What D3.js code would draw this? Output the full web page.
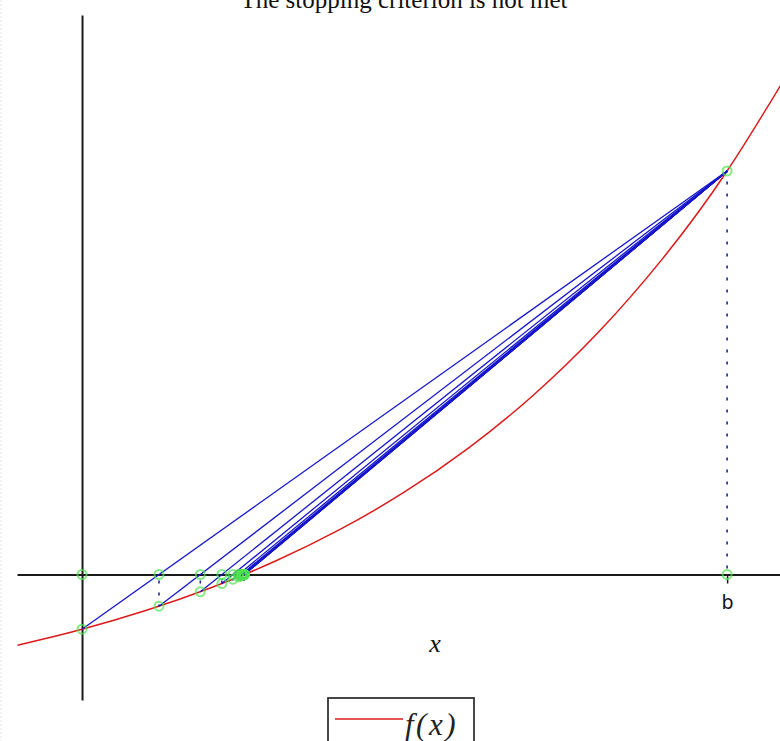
<!DOCTYPE html>
<html>
<head>
<meta charset="utf-8">
<script src="https://cdn.jsdelivr.net/npm/d3@7"></script>
<style>
  html, body { margin: 0; padding: 0; background: #fff; }
  svg { display: block; }
</style>
</head>
<body>
<svg id="chart" width="780" height="741"></svg>
<script>
// f(x) sampled along the interval shown
const curveX = [-0.1, 0, 0.1, 0.2, 0.3, 0.4, 0.5, 0.6, 0.7, 0.8, 0.9, 1.0, 1.1];
const curveY = [-0.1752, -0.1355, -0.0885, -0.0327, 0.0334, 0.1117, 0.2045, 0.3146, 0.4450, 0.5996, 0.7828, 1.0000, 1.2575];

// false-position iterates x_k and f(x_k); the right end point stays fixed at b
const iterX = [0, 0.1193, 0.1834, 0.2168, 0.2339, 0.2427, 0.2471, 0.2494, 0.2505, 0.2511, 0.2514, 0.2515];
const iterY = [-0.1355, -0.0784, -0.0427, -0.0224, -0.0115, -0.0059, -0.0030, -0.0015, -0.0008, -0.0004, -0.0002, -0.0001];
const endB = [1.0, 1.0];

// tick labels on the x axis
const tickValues = [1.0];
const tickLabels = ["b"];

const titleText = "The stopping criterion is not met";
const axisLabel = "x";
const legendLabel = "f(x)";

const svg = d3.select("#chart");

const x = d3.scaleLinear().domain([-0.1008, 1.082]).range([17, 780]);
const y = d3.scaleLinear().domain([-0.311, 1.3866]).range([700, 15]);

const RED = "#dd1a1a", BLUE = "#1616cc", GREEN = "#4fe34f", NAVY = "#26268a";

// faint frame edge on the left
svg.append("line")
  .attr("x1", 1).attr("x2", 1).attr("y1", 0).attr("y2", 741)
  .attr("stroke", "#e4e4e4").attr("stroke-dasharray", "2,2");

svg.append("clipPath").attr("id", "plotclip")
  .append("rect").attr("x", 17).attr("y", 0).attr("width", 763).attr("height", 741);

// axes through the origin
const xAxis = d3.axisBottom(x)
  .tickValues(tickValues)
  .tickFormat((d, i) => tickLabels[i])
  .tickSizeInner(9).tickSizeOuter(0).tickPadding(12);
const gx = svg.append("g").attr("transform", `translate(0,${y(0)})`).call(xAxis);
gx.select(".domain").attr("stroke", "#1a1a1a").attr("stroke-width", 2);
gx.selectAll(".tick line").attr("stroke", "#1a1a1a").attr("stroke-width", 1.5);
gx.selectAll(".tick text").attr("fill", "#111")
  .style("font-family", "'DejaVu Sans', sans-serif").style("font-size", "19px");

const yAxis = d3.axisLeft(y).tickValues([]).tickSizeOuter(0);
const gy = svg.append("g").attr("transform", `translate(${x(0)},0)`).call(yAxis);
gy.select(".domain").attr("stroke", "#1a1a1a").attr("stroke-width", 2);

// the function
const curvePts = curveX.map((v, i) => [v, curveY[i]]);
svg.append("path")
  .datum(curvePts)
  .attr("clip-path", "url(#plotclip)")
  .attr("fill", "none").attr("stroke", RED).attr("stroke-width", 1.5)
  .attr("d", d3.line().x(d => x(d[0])).y(d => y(d[1])).curve(d3.curveNatural));

// dotted verticals from the axis to the curve
const verts = iterX.slice(1).map((v, i) => [v, iterY[i + 1]]).concat([endB]);
svg.append("g").selectAll("line").data(verts).join("line")
  .attr("x1", d => x(d[0])).attr("x2", d => x(d[0]))
  .attr("y1", d => y(0) + (d[1] > 0 ? -6 : 6)).attr("y2", d => y(d[1]))
  .attr("stroke", NAVY).attr("stroke-width", 1.6)
  .attr("stroke-dasharray", "3,9");

// secant lines to the fixed end point
svg.append("g").selectAll("line").data(iterX).join("line")
  .attr("x1", (d, i) => x(d)).attr("y1", (d, i) => y(iterY[i]))
  .attr("x2", x(endB[0])).attr("y2", y(endB[1]))
  .attr("stroke", BLUE).attr("stroke-width", 1.3);

// markers on the axis and on the curve
const marks = [];
iterX.forEach((v, i) => { marks.push([v, 0]); marks.push([v, iterY[i]]); });
marks.push([endB[0], 0]); marks.push(endB);
svg.append("g").selectAll("circle").data(marks).join("circle")
  .attr("cx", d => x(d[0])).attr("cy", d => y(d[1])).attr("r", 4.5)
  .attr("fill", "none").attr("stroke", GREEN).attr("stroke-width", 2)
  .attr("stroke-opacity", 0.7);

// title, partly above the top edge
svg.append("text")
  .attr("x", 404).attr("y", 7.5).attr("text-anchor", "middle")
  .style("font-family", "'Liberation Serif', serif").style("font-size", "25px")
  .attr("fill", "#111").text(titleText);

// axis label
svg.append("text")
  .attr("x", 435).attr("y", 652).attr("text-anchor", "middle")
  .style("font-family", "'Liberation Serif', serif").style("font-style", "italic")
  .style("font-size", "26px").attr("fill", "#111").text(axisLabel);

// legend
const lg = svg.append("g");
lg.append("rect").attr("x", 328).attr("y", 698).attr("width", 146).attr("height", 60)
  .attr("fill", "#fff").attr("stroke", "#333").attr("stroke-width", 1.8);
lg.append("line").attr("x1", 335).attr("x2", 403).attr("y1", 719).attr("y2", 719)
  .attr("stroke", RED).attr("stroke-width", 1.5);
lg.append("text").attr("x", 405).attr("y", 735)
  .style("font-family", "'Liberation Serif', serif").style("font-style", "italic")
  .style("font-size", "31px").style("letter-spacing", "2.5px")
  .attr("fill", "#222").text(legendLabel);
</script>
</body>
</html>
